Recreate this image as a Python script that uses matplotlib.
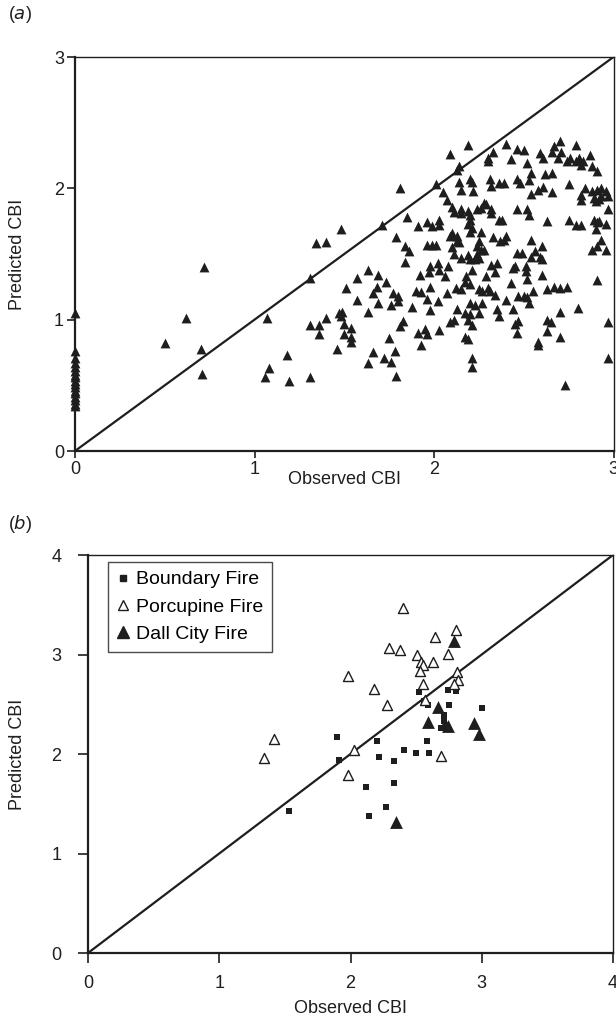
import matplotlib
matplotlib.use("Agg")
import matplotlib.pyplot as plt
from matplotlib.lines import Line2D

plt.rcParams['font.family'] = ['Liberation Sans', 'DejaVu Sans']

# ---------------- Panel (a) data ----------------
a_zero_y = [1.05, 0.76, 0.71, 0.67, 0.64, 0.61, 0.58, 0.56, 0.53, 0.51, 0.49,
            0.46, 0.44, 0.41, 0.39, 0.36, 0.34]

a_obs = [
    0.50, 0.62, 0.72, 0.70, 0.71, 1.07, 1.06, 1.08, 1.18, 1.19, 1.31, 1.31, 1.34, 1.40,
    1.31, 1.36, 1.36, 1.40, 1.46, 1.47, 1.48,
    2.09, 1.81, 2.01, 2.13, 2.14, 2.05, 2.07, 2.10, 2.11,
    1.71, 1.85, 1.91, 1.96, 1.99, 2.03, 2.03, 1.79, 1.84, 1.86, 1.84, 1.96, 1.99, 2.01,
    2.09, 2.10, 2.10, 2.11, 1.98, 2.02, 2.03, 2.08, 1.63, 1.69, 1.57, 1.92, 2.06, 1.97,
    1.73, 1.68, 1.51, 1.66, 1.77, 1.80, 1.90, 1.93, 1.98, 2.07, 2.12, 1.96, 1.57, 1.69,
    1.80, 2.02, 1.76, 1.88, 1.98, 2.13, 1.49, 1.48, 1.63, 1.50, 1.54, 1.50, 1.54, 1.54,
    1.83, 1.81, 1.75, 1.66, 1.78, 1.72, 1.76, 1.63, 1.79, 1.91, 1.95, 1.96, 1.93, 2.03,
    2.09, 2.11,
    2.19, 2.40, 2.33, 2.30, 2.30, 2.14, 2.15, 2.20, 2.21, 2.22, 2.46, 2.50, 2.43, 2.52,
    2.54, 2.46, 2.48, 2.53, 2.31, 2.32, 2.36, 2.39, 2.59, 2.61, 2.66, 2.67, 2.70, 2.71,
    2.69, 2.74, 2.76, 2.79, 2.81, 2.83, 2.79, 2.82, 2.87, 2.88, 2.91, 2.62, 2.66, 2.58,
    2.61, 2.66, 2.54, 2.75, 2.84, 2.88, 2.91, 2.93, 2.96, 2.82, 2.82, 2.89, 2.92, 2.93,
    2.97, 2.90, 2.97, 2.28, 2.29, 2.26, 2.24, 2.32, 2.46, 2.52, 2.15, 2.19,
    2.53, 2.63, 2.75, 2.79, 2.82, 2.89, 2.91, 2.92, 2.90, 2.96, 2.93, 2.91, 2.88, 2.96,
    2.91, 2.15, 2.20, 2.20, 2.19, 2.21, 2.20, 2.26, 2.25, 2.24, 2.26, 2.28, 2.24, 2.25,
    2.13, 2.13, 2.14, 2.15, 2.19, 2.20, 2.23, 2.21, 2.18, 2.17, 2.20, 2.15, 2.25, 2.27,
    2.30, 2.31, 2.34, 2.29, 2.32, 2.35, 2.34, 2.33, 2.37, 2.40, 2.39, 2.36, 2.38, 2.32,
    2.54, 2.60, 2.56, 2.46, 2.49, 2.54, 2.59, 2.60, 2.45, 2.44, 2.51, 2.51, 2.52, 2.60,
    2.43, 2.55, 2.52, 2.50, 2.47, 2.40, 2.63, 2.67, 2.70, 2.74,
    2.20, 2.23, 2.27, 2.17, 2.20, 2.21, 2.19, 2.25, 2.17, 2.19, 2.21, 2.21, 2.35, 2.36,
    2.44, 2.45, 2.47, 2.46, 2.53, 2.58, 2.58, 2.63, 2.65, 2.63, 2.70, 2.70, 2.80, 2.97,
    2.97, 2.73,
]
a_pred = [
    0.82, 1.01, 1.40, 0.78, 0.59, 1.01, 0.56, 0.63, 0.73, 0.53, 0.56, 1.32, 1.58, 1.59,
    0.96, 0.96, 0.89, 1.01, 0.78, 1.05, 1.69,
    2.26, 2.00, 2.03, 2.14, 2.05, 1.97, 1.91, 1.86, 1.82,
    1.72, 1.78, 1.71, 1.74, 1.71, 1.76, 1.72, 1.63, 1.56, 1.52, 1.44, 1.57, 1.57, 1.57,
    1.64, 1.66, 1.55, 1.50, 1.41, 1.43, 1.38, 1.41, 1.38, 1.34, 1.32, 1.34, 1.33, 1.36,
    1.29, 1.25, 1.24, 1.20, 1.20, 1.18, 1.22, 1.21, 1.25, 1.20, 1.24, 1.16, 1.15, 1.13,
    1.14, 1.14, 1.11, 1.10, 1.07, 1.08, 1.06, 1.03, 1.06, 0.97, 0.94, 0.89, 0.87, 0.83,
    0.99, 0.95, 0.86, 0.75, 0.76, 0.71, 0.68, 0.67, 0.57, 0.90, 0.93, 0.89, 0.81, 0.92,
    0.98, 1.00,
    2.33, 2.34, 2.28, 2.23, 2.21, 2.17, 1.99, 2.07, 2.05, 1.98, 2.30, 2.29, 2.22, 2.19,
    2.12, 2.07, 2.04, 2.06, 2.07, 2.02, 2.04, 2.04, 2.27, 2.23, 2.28, 2.32, 2.36, 2.28,
    2.23, 2.21, 2.23, 2.21, 2.23, 2.21, 2.33, 2.18, 2.25, 2.17, 2.13, 2.11, 2.12, 1.99,
    2.01, 1.97, 1.96, 2.03, 2.00, 1.98, 1.99, 2.00, 1.98, 1.95, 1.91, 1.93, 1.92, 1.94,
    1.94, 1.90, 1.84, 1.89, 1.88, 1.85, 1.84, 1.84, 1.84, 1.84, 1.84, 1.83,
    1.80, 1.75, 1.76, 1.72, 1.72, 1.76, 1.74, 1.75, 1.69, 1.73, 1.61, 1.56, 1.53, 1.53,
    1.30, 1.81, 1.80, 1.76, 1.73, 1.70, 1.67, 1.67, 1.60, 1.56, 1.53, 1.53, 1.50, 1.47,
    1.64, 1.60, 1.59, 1.47, 1.49, 1.46, 1.46, 1.38, 1.33, 1.29, 1.27, 1.23, 1.23, 1.22,
    1.24, 1.22, 1.19, 1.33, 1.42, 1.43, 1.36, 1.63, 1.60, 1.64, 1.61, 1.76, 1.76, 1.81,
    1.61, 1.56, 1.52, 1.51, 1.51, 1.48, 1.48, 1.46, 1.41, 1.39, 1.41, 1.37, 1.31, 1.34,
    1.28, 1.22, 1.17, 1.18, 1.18, 1.15, 1.23, 1.25, 1.24, 1.25,
    1.13, 1.11, 1.13, 1.05, 1.04, 0.96, 1.00, 1.05, 0.87, 0.85, 0.71, 0.64, 1.08, 1.03,
    1.08, 0.97, 0.99, 0.90, 1.13, 0.83, 0.81, 1.00, 0.98, 0.91, 0.87, 1.06, 1.09, 0.98,
    0.71, 0.50,
]

# ---------------- Panel (b) data ----------------
boundary_obs = [1.90, 1.91, 1.53, 2.12, 2.14, 2.20, 2.22, 2.27, 2.33, 2.33, 2.41, 2.50,
                2.52, 2.58, 2.60, 2.59, 2.69, 2.71, 2.71, 2.74, 2.75, 2.80, 3.00, 2.56]
boundary_pred = [2.17, 1.94, 1.43, 1.67, 1.38, 2.13, 1.97, 1.47, 1.93, 1.71, 2.04, 2.01,
                 2.62, 2.13, 2.01, 2.49, 2.26, 2.39, 2.33, 2.64, 2.49, 2.63, 2.46, 2.53]

porcupine_obs = [2.40, 2.80, 2.64, 2.29, 2.38, 2.51, 2.74, 2.54, 2.55, 2.63, 2.53, 1.98,
                 2.81, 2.82, 2.79, 2.55, 2.18, 2.28, 2.57, 1.42, 1.34, 2.03, 1.98, 2.69]
porcupine_pred = [3.47, 3.25, 3.18, 3.07, 3.05, 3.00, 3.01, 2.92, 2.89, 2.92, 2.83, 2.78,
                  2.82, 2.74, 2.70, 2.70, 2.65, 2.49, 2.54, 2.15, 1.96, 2.04, 1.79, 1.98]

dall_obs = [2.79, 2.67, 2.59, 2.72, 2.74, 2.94, 2.98, 2.35]
dall_pred = [3.14, 2.47, 2.32, 2.30, 2.28, 2.31, 2.20, 1.32]

a_ticks = [0, 1, 2, 3]
b_ticks = [0, 1, 2, 3, 4]

FS = 13
INK = '#1e1e1e'

fig = plt.figure(figsize=(6.16, 10.22), dpi=100)
W, H = 616, 1022


def axes_px(l, t, r, b):
    return fig.add_axes([l / W, 1 - b / H, (r - l) / W, (b - t) / H])


def style(ax, lim, ticks, xpad, ypad, xlen, ylen, xlab_y, ylab_x):
    ax.set_xlim(0, lim)
    ax.set_ylim(0, lim)
    ax.set_xticks(ticks)
    ax.set_yticks(ticks)
    ax.tick_params(axis='x', direction='out', length=xlen, width=1.2, labelsize=FS,
                   pad=xpad, color=INK, labelcolor=INK)
    ax.tick_params(axis='y', direction='out', length=ylen, width=1.2, labelsize=FS,
                   pad=ypad, color=INK, labelcolor=INK)
    for s in ['left', 'bottom']:
        ax.spines[s].set_linewidth(1.6)
        ax.spines[s].set_color(INK)
    for s in ['top', 'right']:
        ax.spines[s].set_linewidth(1.0)
        ax.spines[s].set_color(INK)
    xl = ax.set_xlabel('Observed CBI', fontsize=FS, color=INK)
    yl = ax.set_ylabel('Predicted CBI', fontsize=FS, color=INK)
    xl.set_va('center')
    yl.set_va('center')
    ax.xaxis.set_label_coords(0.5, xlab_y)
    ax.yaxis.set_label_coords(ylab_x, 0.5)


# Panel (a): axes spans x 75..613.5 px, y 57..451 px
ax1 = axes_px(75, 57, 613.5, 451)
style(ax1, 3, a_ticks, xpad=2, ypad=2, xlen=5, ylen=6,
      xlab_y=(451 - 479) / 394, ylab_x=(18 - 75) / 538.5)
ax1.plot([0, 3], [0, 3], color=INK, lw=1.6, zorder=2)
ax1.scatter([0] * len(a_zero_y), a_zero_y, marker='^', s=50, color=INK,
            linewidths=0, zorder=3, clip_on=False)
ax1.scatter(a_obs, a_pred, marker='^', s=50, color=INK, linewidths=0,
            zorder=3, clip_on=False)
fig.text(8 / W, 1 - 14 / H, r'($\it{a}$)', fontsize=FS, va='center', ha='left',
         color=INK)

# Panel (b): axes spans x 88..613 px, y 555..953 px
ax2 = axes_px(88, 555, 613, 953)
style(ax2, 4, b_ticks, xpad=9, ypad=12, xlen=7, ylen=7,
      xlab_y=(953 - 1008) / 398, ylab_x=(18 - 88) / 525)
ax2.plot([0, 4], [0, 4], color=INK, lw=1.6, zorder=2)
ax2.scatter(boundary_obs, boundary_pred, marker='s', s=16, color=INK,
            linewidths=0, zorder=3)
ax2.scatter(porcupine_obs, porcupine_pred, marker='^', s=52, facecolors='white',
            edgecolors=INK, linewidths=1.0, zorder=3)
ax2.scatter(dall_obs, dall_pred, marker='^', s=85, color=INK, linewidths=0,
            zorder=4)
handles = [
    Line2D([], [], marker='s', ls='none', color=INK, markersize=4),
    Line2D([], [], marker='^', ls='none', markerfacecolor='white',
           markeredgecolor=INK, markersize=7.5, markeredgewidth=1.0),
    Line2D([], [], marker='^', ls='none', color=INK, markersize=9),
]
leg = ax2.legend(handles, ['Boundary Fire', 'Porcupine Fire', 'Dall City Fire'],
                 loc='upper left', bbox_to_anchor=((108 - 88) / 525, (953 - 562) / 398),
                 borderaxespad=0, fontsize=FS + 1,
                 frameon=True, fancybox=False, edgecolor=INK,
                 handlelength=0.6, handletextpad=0.4, borderpad=0.45,
                 labelspacing=0.5)
leg.get_frame().set_linewidth(1.0)
fig.text(8 / W, 1 - 524 / H, r'($\it{b}$)', fontsize=FS, va='center', ha='left',
         color=INK)

fig.savefig('out.png', dpi=100)
